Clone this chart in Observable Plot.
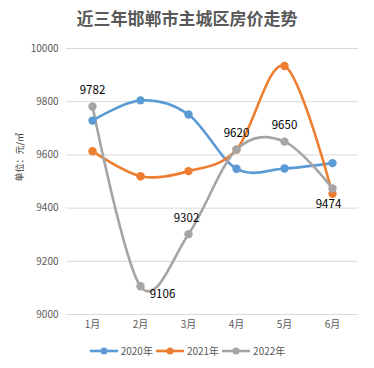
<!DOCTYPE html>
<html><head><meta charset="utf-8">
<script src="https://cdn.jsdelivr.net/npm/d3@7"></script>
<script src="https://cdn.jsdelivr.net/npm/@observablehq/plot@0.6"></script>
<style>
body{margin:0;background:#fff;font-family:"Noto Sans CJK SC","Noto Sans",sans-serif;}
#wrap{position:relative;width:374px;height:368px;overflow:hidden;}
#title{position:absolute;top:5px;left:0;width:374px;text-align:center;font-size:17px;font-weight:bold;color:#595959;}
#legend{position:absolute;top:343px;left:0;width:374px;display:flex;justify-content:center;align-items:center;font-size:10px;color:#595959;}
.li{display:flex;align-items:center;margin:0 1px;}
#chart{position:absolute;top:0;left:0;}
</style></head>
<body><div id="wrap"><div id="chart"></div><div id="title">近三年邯郸市主城区房价走势</div><div id="legend"></div></div>
<script>
const months = ["1月","2月","3月","4月","5月","6月"];
const seriesNames = ["2020年","2021年","2022年"];
const colors = ["#5B9BD5","#ED7D31","#A5A5A5"];
const v2020 = [9729, 9805, 9752, 9548, 9549, 9569];
const v2021 = [9614, 9520, 9539, 9620, 9934, 9454];
const v2022 = [9782, 9106, 9302, 9620, 9650, 9474];
const yTicks = [9000, 9200, 9400, 9600, 9800, 10000];
const labelPos = ["top","right","topleft","top","top","bottom"];

const allVals = [v2020, v2021, v2022];
const data = [];
allVals.forEach((vals, s) => vals.forEach((v, i) => data.push({month: months[i], value: v, series: seriesNames[s], idx: i})));
const labels = v2022.map((v, i) => ({month: months[i], value: v, pos: labelPos[i]}));
const offs = {top:[0,-16], right:[22,8], topleft:[-2,-16], bottom:[-4,16]};

const plot = Plot.plot({
  width: 374, height: 368,
  marginLeft: 66, marginRight: 16, marginTop: 48, marginBottom: 54,
  style: {fontFamily: '"Noto Sans CJK SC","Noto Sans",sans-serif', background: "transparent"},
  x: {type: "point", domain: months, padding: 0.5, label: null},
  y: {domain: [9000, 10000], label: null},
  color: {domain: seriesNames, range: colors},
  marks: [
    Plot.ruleY(yTicks, {stroke: "#d9d9d9", strokeWidth: 1}),
    Plot.axisY({ticks: yTicks, tickFormat: d => String(d), tickSize: 0, tickPadding: 8, fontSize: 10, fill: "#595959", label: null}),
    Plot.axisX({tickSize: 0, tickPadding: 6, fontSize: 10, fill: "#595959", label: null}),
    Plot.text(["单位：元/㎡"], {frameAnchor: "left", dx: -46, rotate: -90, fontSize: 9, fill: "#404040"}),
    Plot.line(data, {x: "month", y: "value", z: "series", stroke: "series", strokeWidth: 2.6, curve: "cardinal", tension: 0}),
    Plot.dot(data, {x: "month", y: "value", fill: "series", r: 4.2}),
    ...Object.keys(offs).map(k => Plot.text(labels.filter(d => d.pos === k), {x: "month", y: "value", text: d => String(d.value), dx: offs[k][0], dy: offs[k][1], fontSize: 11.5, fill: "#000"}))
  ]
});
document.getElementById("chart").appendChild(plot);

const legend = d3.select("#legend");
seriesNames.forEach((n, i) => {
  const item = legend.append("div").attr("class", "li");
  const svg = item.append("svg").attr("width", 30).attr("height", 10);
  svg.append("line").attr("x1", 1).attr("x2", 29).attr("y1", 5).attr("y2", 5).attr("stroke", colors[i]).attr("stroke-width", 2.6);
  svg.append("circle").attr("cx", 15).attr("cy", 5).attr("r", 3.5).attr("fill", colors[i]);
  item.append("span").text(n).style("margin-left", "2px");
});
</script></body></html>
